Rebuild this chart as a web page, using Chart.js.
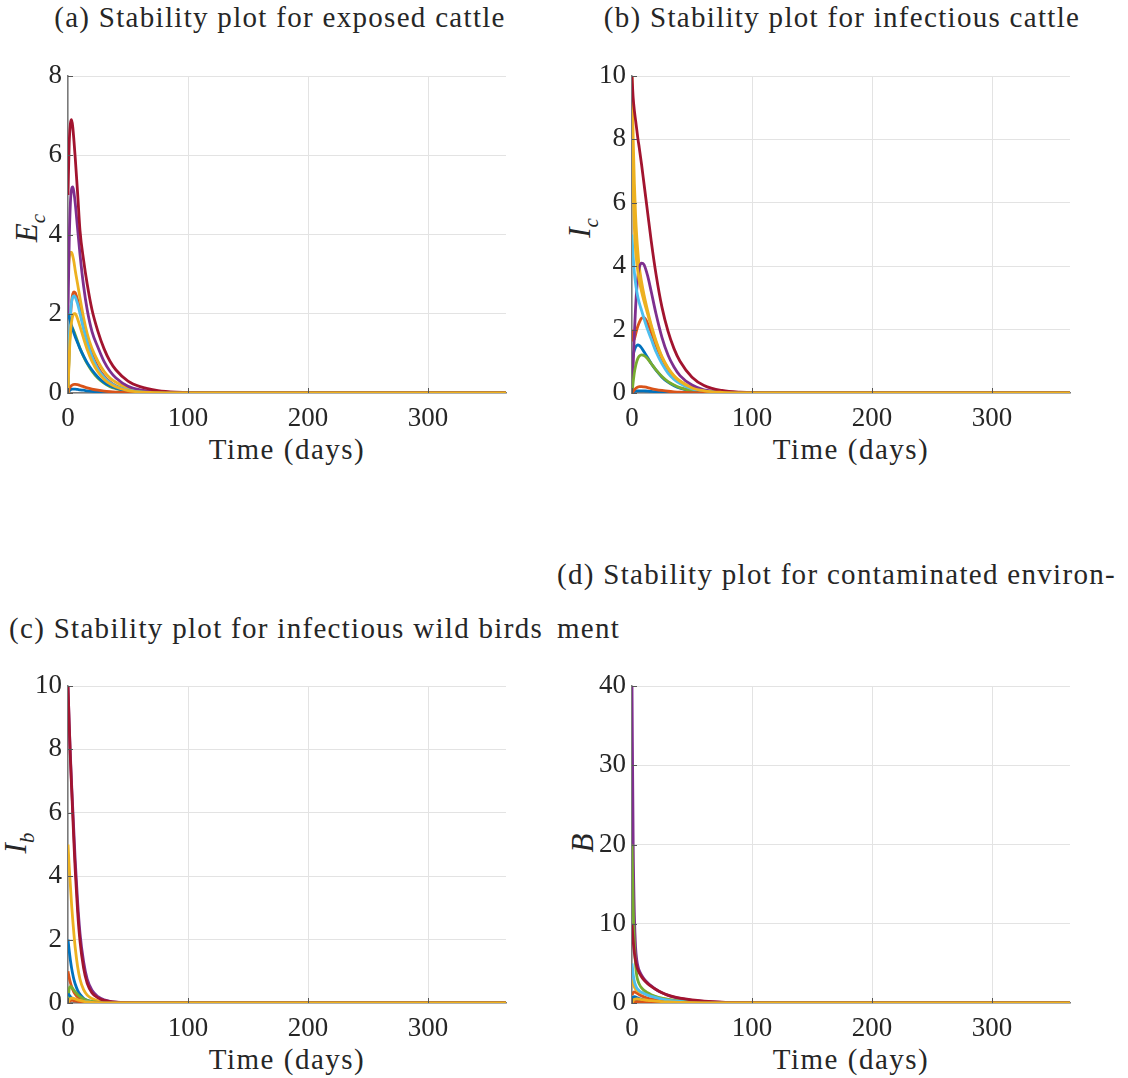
<!DOCTYPE html>
<html>
<head>
<meta charset="utf-8">
<script src="https://cdn.jsdelivr.net/npm/chart.js@4.4.1/dist/chart.umd.min.js"></script>
<style>
    body { margin: 0; background: #fff; width: 1128px; height: 1078px; position: relative; overflow: hidden;
           font-family: "Liberation Serif", "DejaVu Serif", serif; color: #262626; }
    canvas { position: absolute; }
    .title { position: absolute; font-size: 29px; line-height: 32px; letter-spacing: 1.3px; white-space: nowrap; }
    .xlab { position: absolute; font-size: 29px; line-height: 32px; letter-spacing: 1.5px; white-space: nowrap;
            width: 300px; text-align: center; }
    .ylab { position: absolute; font-size: 31px; font-style: italic; white-space: nowrap;
            transform: translate(-50%, -50%) rotate(-90deg); }
    .ylab sub { font-size: 21px; }
</style>
</head>
<body>

<div class="title" style="left:30px; top:1px; width:500px; text-align:center;">(a) Stability plot for exposed cattle</div>
<div class="title" style="left:592px; top:1px; width:500px; text-align:center;">(b) Stability plot for infectious cattle</div>
<div class="title" style="left:9px; top:612px;">(c) Stability plot for infectious wild birds</div>
<div class="title" style="left:557px; top:558px;">(d) Stability plot for contaminated environ-</div>
<div class="title" style="left:557px; top:612px;">ment</div>

<div class="xlab" style="left:137px; top:433px;">Time (days)</div>
<div class="xlab" style="left:701px; top:433px;">Time (days)</div>
<div class="xlab" style="left:137px; top:1043px;">Time (days)</div>
<div class="xlab" style="left:701px; top:1043px;">Time (days)</div>

<div class="ylab" style="left:30px; top:228px;">E<sub>c</sub></div>
<div class="ylab" style="left:583px; top:228px;">I<sub>c</sub></div>
<div class="ylab" style="left:19px; top:843px;">I<sub>b</sub></div>
<div class="ylab" style="left:583px; top:843px;">B</div>

<canvas id="chartA" width="530" height="420" style="left:0px; top:50px;"></canvas>
<canvas id="chartB" width="530" height="420" style="left:564px; top:50px;"></canvas>
<canvas id="chartC" width="530" height="420" style="left:0px; top:660px;"></canvas>
<canvas id="chartD" width="530" height="420" style="left:564px; top:660px;"></canvas>

<script>
// Time samples (days), shared by every curve
const days = [0, 1, 2, 3, 4, 5, 6, 8, 10, 13, 16, 20, 25, 30, 35, 40, 50, 60, 75, 90, 120, 365];

// MATLAB default line colour order, cycling over the 10 initial conditions
const lineColors = ['#0072BD', '#D95319', '#EDB120', '#7E2F8E', '#77AC30',
                    '#4DBEEE', '#A2142F', '#0072BD', '#D95319', '#EDB120'];

// (a) exposed cattle E_c, one row per initial condition
const exposedCattle = [
    [0, 0.05, 0.08, 0.1, 0.1, 0.1, 0.1, 0.09, 0.08, 0.07, 0.055, 0.04, 0.03, 0.02, 0.013, 0.009, 0.004, 0.002, 0, 0, 0, 0],
    [0, 1.2, 1.9, 2.3, 2.5, 2.55, 2.53, 2.35, 2.1, 1.7, 1.35, 0.98, 0.65, 0.43, 0.28, 0.18, 0.08, 0.03, 0.01, 0.003, 0, 0],
    [3.0, 3.4, 3.55, 3.55, 3.45, 3.3, 3.1, 2.75, 2.4, 1.9, 1.5, 1.12, 0.8, 0.55, 0.38, 0.27, 0.12, 0.05, 0.015, 0.004, 0, 0],
    [2.0, 3.8, 4.8, 5.15, 5.2, 5.05, 4.8, 4.15, 3.5, 2.7, 2.1, 1.55, 1.15, 0.8, 0.55, 0.38, 0.17, 0.08, 0.025, 0.007, 0, 0],
    [0, 1.1, 1.55, 1.65, 1.62, 1.55, 1.47, 1.3, 1.13, 0.92, 0.74, 0.55, 0.37, 0.25, 0.16, 0.11, 0.045, 0.018, 0.005, 0.001, 0, 0],
    [0, 1.3, 1.95, 2.3, 2.42, 2.45, 2.42, 2.25, 2.0, 1.6, 1.27, 0.92, 0.6, 0.4, 0.26, 0.17, 0.07, 0.03, 0.01, 0.003, 0, 0],
    [5.0, 6.3, 6.8, 6.9, 6.7, 6.35, 5.95, 5.05, 4.1, 3.35, 2.75, 2.1, 1.55, 1.12, 0.8, 0.58, 0.3, 0.16, 0.06, 0.02, 0.003, 0],
    [2.0, 1.9, 1.8, 1.7, 1.6, 1.5, 1.42, 1.27, 1.12, 0.93, 0.76, 0.58, 0.4, 0.27, 0.18, 0.12, 0.05, 0.02, 0.006, 0.002, 0, 0],
    [0, 0.1, 0.16, 0.19, 0.21, 0.22, 0.22, 0.21, 0.19, 0.16, 0.13, 0.1, 0.07, 0.047, 0.032, 0.022, 0.01, 0.004, 0.001, 0, 0, 0],
    [0, 0.9, 1.5, 1.8, 1.95, 2.0, 2.0, 1.87, 1.68, 1.38, 1.1, 0.8, 0.53, 0.35, 0.23, 0.15, 0.06, 0.025, 0.008, 0.002, 0, 0]
];

// (b) infectious cattle I_c
const infectiousCattle = [
    [1.0, 1.2, 1.35, 1.45, 1.5, 1.52, 1.5, 1.42, 1.3, 1.12, 0.93, 0.72, 0.5, 0.34, 0.23, 0.15, 0.065, 0.027, 0.008, 0.002, 0, 0],
    [2.0, 1.65, 1.7, 1.85, 2.0, 2.12, 2.22, 2.36, 2.38, 2.2, 1.92, 1.5, 1.07, 0.74, 0.5, 0.34, 0.15, 0.065, 0.02, 0.006, 0, 0],
    [10, 8.0, 6.6, 5.6, 4.9, 4.4, 4.0, 3.5, 3.1, 2.6, 2.15, 1.65, 1.15, 0.8, 0.55, 0.38, 0.17, 0.07, 0.02, 0.006, 0, 0],
    [0, 0.9, 1.9, 2.7, 3.3, 3.7, 3.95, 4.1, 4.05, 3.7, 3.2, 2.5, 1.75, 1.2, 0.82, 0.55, 0.25, 0.1, 0.03, 0.01, 0, 0],
    [0, 0.35, 0.65, 0.85, 1.0, 1.1, 1.16, 1.2, 1.18, 1.08, 0.93, 0.73, 0.52, 0.36, 0.25, 0.17, 0.075, 0.03, 0.009, 0.003, 0, 0],
    [5.0, 4.3, 3.8, 3.45, 3.2, 3.0, 2.85, 2.6, 2.35, 2.0, 1.7, 1.3, 0.92, 0.63, 0.43, 0.3, 0.13, 0.055, 0.016, 0.005, 0, 0],
    [10, 9.3, 8.9, 8.6, 8.3, 8.0, 7.75, 7.2, 6.6, 5.7, 4.8, 3.75, 2.7, 1.95, 1.4, 1.0, 0.5, 0.24, 0.08, 0.025, 0.003, 0],
    [0, 0.03, 0.05, 0.06, 0.07, 0.07, 0.07, 0.07, 0.065, 0.06, 0.05, 0.04, 0.03, 0.02, 0.013, 0.009, 0.004, 0.002, 0, 0, 0, 0],
    [0, 0.05, 0.1, 0.14, 0.17, 0.19, 0.2, 0.2, 0.19, 0.17, 0.14, 0.11, 0.08, 0.055, 0.038, 0.026, 0.012, 0.005, 0.0015, 0, 0, 0],
    [8.0, 6.3, 5.2, 4.5, 4.1, 3.8, 3.55, 3.2, 2.9, 2.5, 2.1, 1.6, 1.12, 0.78, 0.53, 0.37, 0.16, 0.07, 0.02, 0.005, 0, 0]
];

// (c) infectious wild birds I_b
const wildBirds = [
    [2.0, 1.65, 1.35, 1.1, 0.9, 0.73, 0.6, 0.4, 0.27, 0.15, 0.085, 0.045, 0.02, 0.01, 0.005, 0.003, 0.001, 0, 0, 0, 0, 0],
    [1.0, 0.8, 0.64, 0.52, 0.42, 0.34, 0.28, 0.19, 0.13, 0.08, 0.05, 0.025, 0.012, 0.006, 0.003, 0.002, 0, 0, 0, 0, 0, 0],
    [5.0, 4.3, 3.7, 3.1, 2.6, 2.15, 1.75, 1.15, 0.75, 0.42, 0.25, 0.14, 0.07, 0.035, 0.02, 0.01, 0.004, 0.001, 0, 0, 0, 0],
    [10, 8.8, 7.8, 6.9, 6.1, 5.3, 4.5, 3.2, 2.2, 1.3, 0.75, 0.4, 0.2, 0.1, 0.055, 0.03, 0.01, 0.004, 0.001, 0, 0, 0],
    [0, 0.45, 0.52, 0.5, 0.45, 0.4, 0.35, 0.27, 0.2, 0.13, 0.08, 0.045, 0.022, 0.011, 0.006, 0.003, 0.001, 0, 0, 0, 0, 0],
    [0, 0.08, 0.12, 0.13, 0.13, 0.12, 0.11, 0.09, 0.07, 0.05, 0.035, 0.02, 0.01, 0.005, 0.003, 0.001, 0, 0, 0, 0, 0, 0],
    [10, 8.8, 7.7, 6.8, 5.9, 5.0, 4.2, 2.9, 1.95, 1.1, 0.62, 0.32, 0.16, 0.08, 0.045, 0.025, 0.009, 0.003, 0.001, 0, 0, 0],
    [0.3, 0.25, 0.2, 0.16, 0.13, 0.1, 0.08, 0.05, 0.035, 0.02, 0.01, 0.005, 0.002, 0.001, 0, 0, 0, 0, 0, 0, 0, 0],
    [0, 0.05, 0.07, 0.08, 0.08, 0.07, 0.065, 0.05, 0.04, 0.025, 0.015, 0.008, 0.004, 0.002, 0.001, 0, 0, 0, 0, 0, 0, 0],
    [0, 0.1, 0.14, 0.15, 0.15, 0.14, 0.13, 0.1, 0.08, 0.055, 0.035, 0.02, 0.01, 0.005, 0.003, 0.001, 0, 0, 0, 0, 0, 0]
];

// (d) contaminated environment B
const environment = [
    [0.5, 0.75, 0.8, 0.75, 0.7, 0.62, 0.56, 0.47, 0.4, 0.32, 0.26, 0.2, 0.14, 0.1, 0.075, 0.055, 0.03, 0.015, 0.005, 0.002, 0, 0],
    [1.0, 1.3, 1.4, 1.35, 1.25, 1.15, 1.05, 0.9, 0.78, 0.63, 0.52, 0.4, 0.3, 0.22, 0.16, 0.12, 0.065, 0.035, 0.013, 0.005, 0, 0],
    [3.0, 2.4, 2.0, 1.75, 1.6, 1.5, 1.42, 1.3, 1.2, 1.05, 0.92, 0.77, 0.6, 0.47, 0.37, 0.29, 0.17, 0.1, 0.045, 0.02, 0.003, 0],
    [40, 20, 11, 7.0, 5.4, 4.6, 4.1, 3.5, 3.05, 2.55, 2.15, 1.7, 1.28, 0.97, 0.74, 0.57, 0.34, 0.2, 0.09, 0.04, 0.007, 0],
    [20, 12, 7.5, 4.8, 3.4, 2.8, 2.4, 1.9, 1.6, 1.3, 1.05, 0.82, 0.6, 0.45, 0.34, 0.26, 0.15, 0.085, 0.035, 0.013, 0.002, 0],
    [5.0, 3.6, 2.7, 2.2, 1.9, 1.7, 1.55, 1.35, 1.2, 1.0, 0.85, 0.67, 0.5, 0.37, 0.27, 0.2, 0.11, 0.06, 0.025, 0.01, 0.001, 0],
    [10, 7.8, 6.3, 5.3, 4.6, 4.15, 3.8, 3.3, 2.9, 2.45, 2.1, 1.7, 1.3, 1.0, 0.78, 0.6, 0.38, 0.24, 0.11, 0.05, 0.009, 0],
    [0, 0.2, 0.3, 0.33, 0.33, 0.32, 0.3, 0.27, 0.24, 0.2, 0.17, 0.13, 0.1, 0.07, 0.05, 0.04, 0.02, 0.01, 0.004, 0.001, 0, 0],
    [0, 0.1, 0.15, 0.17, 0.18, 0.18, 0.17, 0.16, 0.14, 0.12, 0.1, 0.08, 0.06, 0.045, 0.033, 0.025, 0.013, 0.007, 0.003, 0.001, 0, 0],
    [0, 0.3, 0.45, 0.5, 0.52, 0.5, 0.48, 0.44, 0.4, 0.34, 0.29, 0.23, 0.17, 0.13, 0.1, 0.075, 0.04, 0.022, 0.009, 0.003, 0, 0]
];

const tickFont = { family: '"Liberation Serif", serif', size: 27 };

// MATLAB draws its tick marks inside the axes
const innerTicks = {
    id: 'innerTicks',
    afterDatasetsDraw(chart) {
        const { ctx, chartArea, scales } = chart;
        ctx.save();
        ctx.strokeStyle = '#555';
        ctx.lineWidth = 1;
        ctx.beginPath();
        scales.x.ticks.forEach(t => {
            const px = Math.round(scales.x.getPixelForValue(t.value)) + 0.5;
            ctx.moveTo(px, chartArea.bottom);
            ctx.lineTo(px, chartArea.bottom - 5);
        });
        scales.y.ticks.forEach(t => {
            const py = Math.round(scales.y.getPixelForValue(t.value)) + 0.5;
            ctx.moveTo(chartArea.left, py);
            ctx.lineTo(chartArea.left + 5, py);
        });
        ctx.stroke();
        ctx.restore();
    }
};

function drawPanel(canvasId, series, yMax, yStep) {
    // later curves are drawn on top, as in MATLAB
    const datasets = series.map((values, i) => ({
        data: values.map((v, k) => ({ x: days[k], y: v })),
        borderColor: lineColors[i],
        borderWidth: 2.8,
        pointRadius: 0,
        cubicInterpolationMode: 'monotone',
        fill: false,
        order: -i
    }));

    new Chart(document.getElementById(canvasId), {
        type: 'line',
        data: { datasets },
        plugins: [innerTicks],
        options: {
            responsive: false,
            animation: false,
            events: [],
            layout: { padding: { top: 26, right: 24, left: 0, bottom: 0 } },
            plugins: { legend: { display: false }, tooltip: { enabled: false } },
            scales: {
                x: {
                    type: 'linear',
                    min: 0,
                    max: 365,
                    grid: { color: '#e3e3e3', lineWidth: 1, drawTicks: false },
                    border: { color: '#7a7a7a', width: 1.5 },
                    ticks: { stepSize: 100, includeBounds: false, padding: 10, color: '#262626', font: tickFont, maxRotation: 0 },
                    afterFit: scale => { scale.height = 77; }
                },
                y: {
                    min: 0,
                    max: yMax,
                    grid: { color: '#e3e3e3', lineWidth: 1, drawTicks: false },
                    border: { color: '#7a7a7a', width: 1.5 },
                    ticks: { stepSize: yStep, padding: 6, color: '#262626', font: tickFont },
                    afterFit: scale => { scale.width = 68; }
                }
            }
        }
    });
}

drawPanel('chartA', exposedCattle, 8, 2);
drawPanel('chartB', infectiousCattle, 10, 2);
drawPanel('chartC', wildBirds, 10, 2);
drawPanel('chartD', environment, 40, 10);
</script>
</body>
</html>
